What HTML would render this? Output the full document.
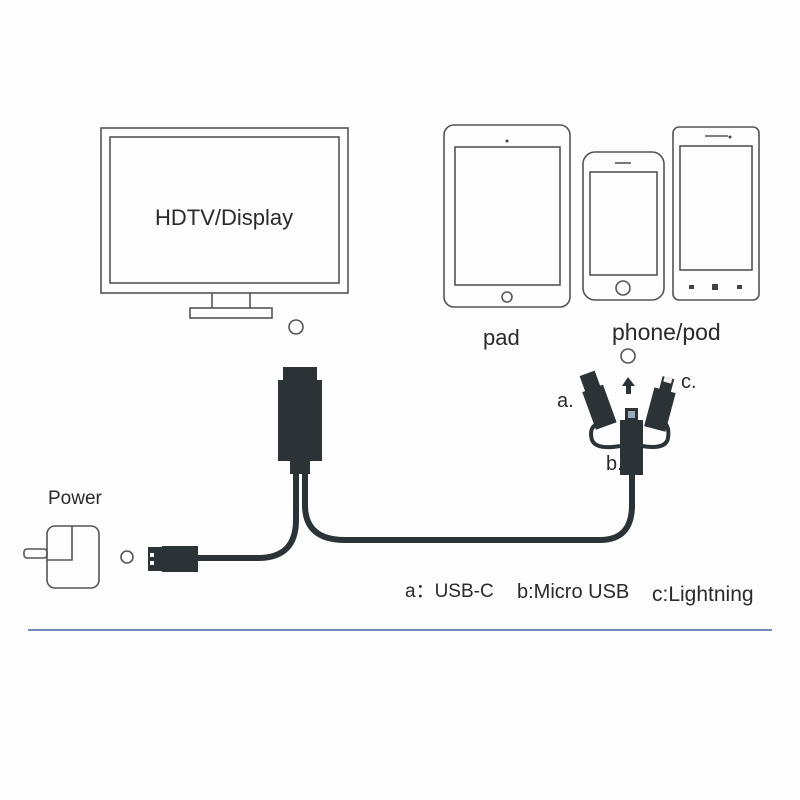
<!DOCTYPE html>
<html><head><meta charset="utf-8"><style>
html,body{margin:0;padding:0;background:#fff;}
svg{display:block}
text{font-family:"Liberation Sans","DejaVu Sans",sans-serif;fill:#2a2a2a}
</style></head><body>
<svg width="800" height="800" viewBox="0 0 800 800" xmlns="http://www.w3.org/2000/svg">
<rect width="800" height="800" fill="#fdfdfd"/>
<g fill="none" stroke="#555" stroke-width="1.6">
<rect x="101" y="128" width="247" height="165"/>
<rect x="110" y="137" width="229" height="146"/>
<path d="M212 293 V308 M250 293 V308"/>
<rect x="190" y="308" width="82" height="10"/>
<rect x="444" y="125" width="126" height="182" rx="10"/>
<rect x="455" y="147" width="105" height="138"/>
<circle cx="507" cy="297" r="5"/>
<rect x="583" y="152" width="81" height="148" rx="12"/>
<rect x="590" y="172" width="67" height="103"/>
<circle cx="623" cy="288" r="7"/>
<path d="M615 163 H631"/>
<rect x="673" y="127" width="86" height="173" rx="6"/>
<rect x="680" y="146" width="72" height="124"/>
<path d="M705 136 H728"/>
<circle cx="296" cy="327" r="7"/>
<circle cx="628" cy="356" r="7"/>
<circle cx="127" cy="557" r="6"/>
<rect x="47" y="526" width="52" height="62" rx="8"/>
<path d="M47 560 H72 V526"/>
<rect x="24" y="549" width="23" height="9" rx="3"/>
</g>
<circle cx="507" cy="141" r="1.5" fill="#444"/>
<circle cx="730" cy="137" r="1.5" fill="#444"/>
<g fill="#444"><rect x="689" y="285" width="5" height="4"/><rect x="712" y="284" width="6" height="6"/><rect x="737" y="285" width="5" height="4"/></g>
<g fill="none" stroke="#2b3336" stroke-width="6" stroke-linecap="round">
<path d="M296 470 V520 Q296 558 258 558 H195"/>
<path d="M305 470 V505 Q305 540 345 540 H600 Q632 540 632 505 V470"/>
</g>
<g fill="#2b3336">
<rect x="283" y="367" width="34" height="14"/>
<rect x="278" y="380" width="44" height="81"/>
<rect x="290" y="460" width="20" height="14"/>
<rect x="148" y="547" width="16" height="24"/>
<rect x="162" y="546" width="36" height="26"/>
<rect x="620" y="420" width="23" height="55"/>
<rect x="625" y="408" width="13" height="13"/>
<path d="M628 377 L622 386 H626 V394 H631 V386 H635 Z"/>
<g transform="rotate(-20 595 395)"><rect x="584" y="388" width="22" height="40"/><rect x="587" y="372" width="16" height="17"/></g>
<g transform="rotate(15 663 398)"><rect x="652" y="390" width="22" height="40"/><rect x="657" y="377" width="12" height="14"/></g>
</g>
<rect x="150" y="553" width="4" height="4" fill="#fff"/><rect x="150" y="561" width="4" height="4" fill="#fff"/>
<rect x="628" y="411" width="7" height="7" fill="#9ab" />
<rect x="659" y="377" width="8" height="5" fill="#eee" transform="rotate(15 663 398)"/>
<path d="M600 423 Q588 426 592 440 Q596 450 620 446 M642 446 Q666 450 668 438 Q670 425 662 421" fill="none" stroke="#2b3336" stroke-width="4"/>
<text x="155" y="225" font-size="22">HDTV/Display</text>
<text x="483" y="345" font-size="22">pad</text>
<text x="612" y="340" font-size="23">phone/pod</text>
<text x="48" y="504" font-size="19">Power</text>
<text x="557" y="407" font-size="20">a.</text>
<text x="681" y="388" font-size="20">c.</text>
<text x="606" y="470" font-size="20">b.</text>
<text x="405" y="597" font-size="19">a：USB-C</text>
<text x="517" y="598" font-size="20">b:Micro USB</text>
<text x="652" y="601" font-size="21">c:Lightning</text>
<line x1="28" y1="630" x2="772" y2="630" stroke="#4466a8" stroke-width="1.5"/>
</svg>
</body></html>
